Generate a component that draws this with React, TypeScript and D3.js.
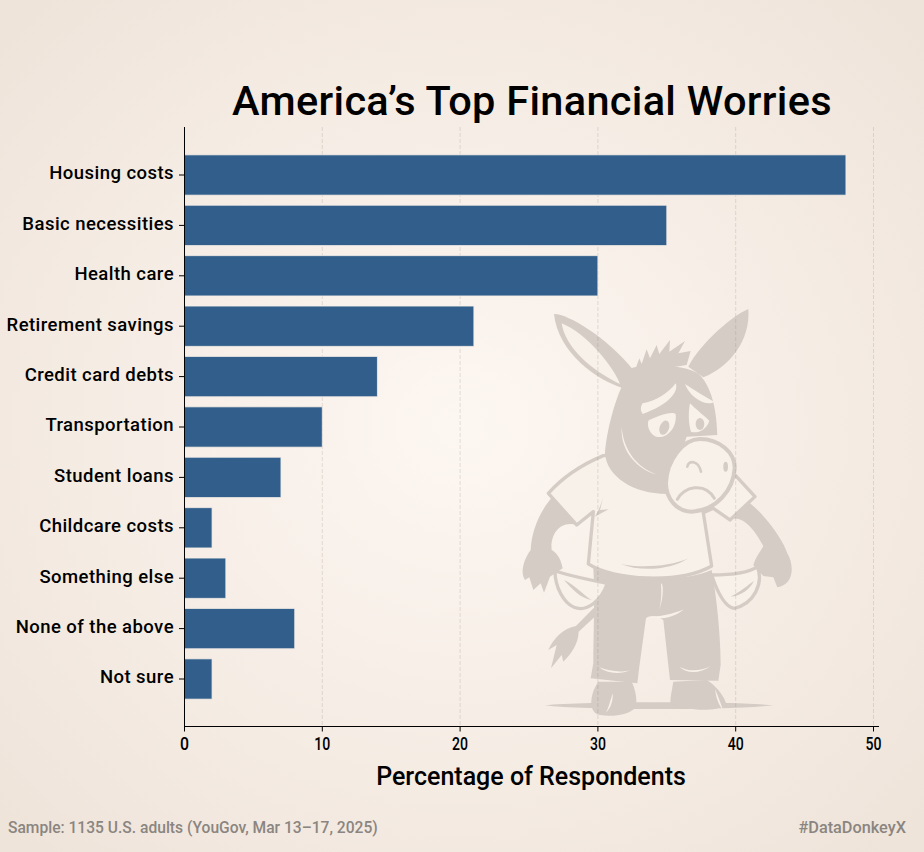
import React from "react";
import * as d3 from "d3";

const categories = ["Housing costs","Basic necessities","Health care","Retirement savings","Credit card debts","Transportation","Student loans","Childcare costs","Something else","None of the above","Not sure"];
const percentages = [48,35,30,21,14,10,7,2,3,8,2];
const xTicks = [0,10,20,30,40,50];
const titleText = "America’s Top Financial Worries";
const xLabel = "Percentage of Respondents";
const sourceText = "Sample: 1135 U.S. adults (YouGov, Mar 13–17, 2025)";
const tagText = "#DataDonkeyX";

const W = 924, H = 852;
const FONT = "Roboto, sans-serif";
const DARK = "#d4ccc5";
const LIGHT = "#f8f1ea";

function Donkey() {
  return (
    <g transform="translate(500,290) scale(0.3333)">
      <path d="M135,1246 C250,1234 700,1234 822,1246 C700,1260 250,1262 135,1246 Z" fill={DARK} />
      <path d="M285,950 L228,1008 C190,1015 160,1045 145,1080 L170,1065 L153,1135 L185,1095 L190,1115 C215,1090 235,1060 236,1025 L290,975 Z" fill={DARK} />
      <path d="M280,830 C350,870 550,880 635,840 C650,920 662,1040 662,1125 L655,1172 L510,1170 L490,990 C470,975 450,975 438,985 L418,1130 L412,1180 L272,1165 L280,1120 C280,1040 285,930 280,830 Z" fill={DARK} />
      <path d="M483,880 C492,880 490,930 478,958 C486,925 484,900 483,880 Z M440,982 C480,980 520,972 552,958 C520,985 480,990 440,982 Z M298,1132 C330,1145 365,1148 392,1140 C360,1155 320,1150 298,1132 Z M538,1130 C565,1145 600,1145 632,1128 C600,1152 560,1152 538,1130 Z" fill={LIGHT} />
      <path d="M295,1175 C270,1210 262,1268 300,1275 C340,1282 395,1272 408,1250 C412,1225 405,1195 395,1175 Z" fill={DARK} />
      <path d="M520,1175 C515,1205 510,1225 512,1240 C560,1262 640,1268 680,1245 C672,1215 645,1185 620,1170 Z" fill={DARK} />
      <path d="M338,1210 C330,1235 325,1255 318,1268 C332,1255 340,1232 338,1210 Z M645,1198 C655,1220 662,1240 668,1258 C655,1245 648,1220 645,1198 Z" fill={LIGHT} />
      <path d="M165,843 C220,860 280,872 322,880 C305,930 262,968 222,952 C190,938 165,890 165,843 Z" fill={LIGHT} stroke={DARK} strokeWidth={10} strokeLinejoin="round" />
      <path d="M192,870 C225,885 250,915 275,930 C240,925 215,895 192,870 Z" fill={DARK} />
      <path d="M635,855 C690,855 745,850 772,830 C792,880 762,942 702,955 C672,950 650,900 635,855 Z" fill={LIGHT} stroke={DARK} strokeWidth={10} strokeLinejoin="round" />
      <path d="M692,920 C720,905 745,885 762,872 C750,900 720,918 692,920 Z" fill={DARK} />
      <path d="M165,612 C120,660 95,720 92,780 C70,810 60,850 75,870 L88,862 L100,900 L122,880 L132,908 L150,860 L188,835 C182,800 165,785 155,780 C150,740 175,690 230,705 Z" fill={DARK} />
      <path d="M745,635 C800,680 850,750 862,790 C885,830 880,885 832,892 L820,862 L790,858 L760,825 C770,795 785,780 790,768 C765,720 725,670 690,690 Z" fill={DARK} />
      <path d="M310,497 C250,522 190,560 145,610 L230,705 L280,665 L265,822 C340,872 540,882 635,828 L610,668 L640,655 L690,690 L765,620 L705,555 L500,480 Z" fill={LIGHT} stroke={DARK} strokeWidth={10} strokeLinejoin="round" />
      <path d="M362,822 C420,835 510,830 565,805 C510,842 420,845 362,822 Z" fill={DARK} />
      <path d="M312,612 C305,640 295,665 284,680 L326,658 L300,660 Z" fill={DARK} />
      <path d="M745,57 C700,75 600,160 565,230 L610,262 C690,230 752,150 745,57 Z" fill={DARK} />
      <path d="M162,72 C200,70 320,140 400,240 L370,295 C290,270 175,190 162,72 Z" fill={DARK} />
      <path d="M185,100 C195,170 270,240 360,282 C340,230 260,130 185,100 Z" fill={LIGHT} />
      <path d="M402,250 L418,205 L425,222 L440,178 L450,205 L470,165 L478,192 L510,150 L508,185 L555,153 L535,190 L572,183 L560,225 Z" fill={DARK} />
      <path d="M395,235 C350,300 320,420 315,490 C320,560 400,612 500,612 L560,440 L652,435 C650,370 640,300 600,255 C560,222 430,220 395,235 Z" fill={DARK} />
      <path d="M365,410 C370,480 410,530 468,553 C420,540 360,490 365,410 Z" fill={LIGHT} />
      <path d="M428,340 C465,335 505,310 527,280 C538,305 505,345 428,372 C420,360 422,350 428,340 Z" fill={LIGHT} />
      <path d="M555,282 C585,302 612,318 642,335 C625,352 570,325 555,282 Z" fill={LIGHT} />
      <path d="M445,392 C470,378 515,362 527,372 C532,415 500,445 472,441 C452,436 440,412 445,392 Z" fill={LIGHT} />
      <ellipse cx={493} cy={413} rx={14} ry={22} fill={DARK} transform="rotate(20 493 413)" />
      <path d="M570,340 C590,360 615,380 628,392 C620,420 590,432 573,425 C565,400 565,365 570,340 Z" fill={LIGHT} />
      <ellipse cx={600} cy={402} rx={13} ry={18} fill={DARK} />
      <path d="M600,447 C660,447 706,490 704,535 C700,600 650,662 575,665 C530,665 498,625 498,580 C500,510 550,447 600,447 Z" fill={LIGHT} stroke={DARK} strokeWidth={12} />
      <path d="M532,628 C550,590 615,575 643,625" fill="none" stroke={DARK} strokeWidth={9} strokeLinecap="round" />
      <path d="M562,530 C565,510 595,510 603,545" fill="none" stroke={DARK} strokeWidth={8} strokeLinecap="round" />
      <ellipse cx={677} cy={530} rx={7} ry={15} fill={DARK} />
    </g>
  );
}

export default function App() {
  const x = d3.scaleLinear().domain([0, 50]).range([184.5, 873.5]);
  const y = d3.scaleBand<string>().domain(categories).range([149.8, 704.2]).paddingInner(0.2).paddingOuter(0.1);
  const axisTop = 127, axisBottom = 726.5, axisRight = 879;
  return (
    <svg width={W} height={H} viewBox={`0 0 ${W} ${H}`} style={{ position: "absolute", left: 0, top: 0, display: "block" }}>
      <defs>
        <radialGradient id="bg" cx="50%" cy="50%" r="68%">
          <stop offset="0%" stopColor="#fdf7f2" />
          <stop offset="100%" stopColor="#efe4da" />
        </radialGradient>
      </defs>
      <rect width={W} height={H} fill="url(#bg)" />
      <Donkey />
      {xTicks.filter(t => t > 0).map(t => (
        <line key={t} x1={x(t)} x2={x(t)} y1={axisTop} y2={axisBottom} stroke="#8a8078" strokeOpacity={0.28} strokeWidth={0.8} strokeDasharray="4 2" />
      ))}
      {categories.map((c, i) => (
        <rect key={c} x={x(0)} y={y(c)} width={x(percentages[i]) - x(0)} height={y.bandwidth()} fill="#315e8a" stroke="#f6efe9" strokeOpacity={0.8} strokeWidth={1} />
      ))}
      <line x1={184.5} x2={184.5} y1={axisTop} y2={axisBottom} stroke="#000" strokeWidth={1} />
      <line x1={184} x2={axisRight} y1={axisBottom} y2={axisBottom} stroke="#000" strokeWidth={1} />
      {categories.map(c => {
        const cy = y(c)! + y.bandwidth() / 2;
        return (
          <g key={c}>
            <line x1={179} x2={184} y1={cy} y2={cy} stroke="#000" strokeWidth={1} />
            <text x={174} y={cy - 0.5} textAnchor="end" dominantBaseline="middle" fontFamily={FONT} fontWeight={500} fontSize={18.5} letterSpacing={0.45} fill="#000">{c}</text>
          </g>
        );
      })}
      {xTicks.map(t => (
        <g key={t}>
          <line x1={x(t)} x2={x(t)} y1={axisBottom} y2={axisBottom + 5} stroke="#000" strokeWidth={1} />
          <text x={x(t)} y={750} textAnchor="middle" fontFamily={FONT} fontWeight={500} fontSize={19} textLength={t < 10 ? 9 : 16} lengthAdjust="spacingAndGlyphs" fill="#000">{t}</text>
        </g>
      ))}
      <text x={532} y={115} textAnchor="middle" fontFamily={FONT} fontWeight={500} fontSize={41.5} letterSpacing={0.3} fill="#000">{titleText}</text>
      <text x={531} y={785} textAnchor="middle" fontFamily={FONT} fontWeight={500} fontSize={25} fill="#000">{xLabel}</text>
      <text x={8} y={833} fontFamily={FONT} fontWeight={500} fontSize={15.6} fill="#8a8580">{sourceText}</text>
      <text x={906} y={833} textAnchor="end" fontFamily={FONT} fontWeight={500} fontSize={16.3} fill="#8a8580">{tagText}</text>
    </svg>
  );
}
